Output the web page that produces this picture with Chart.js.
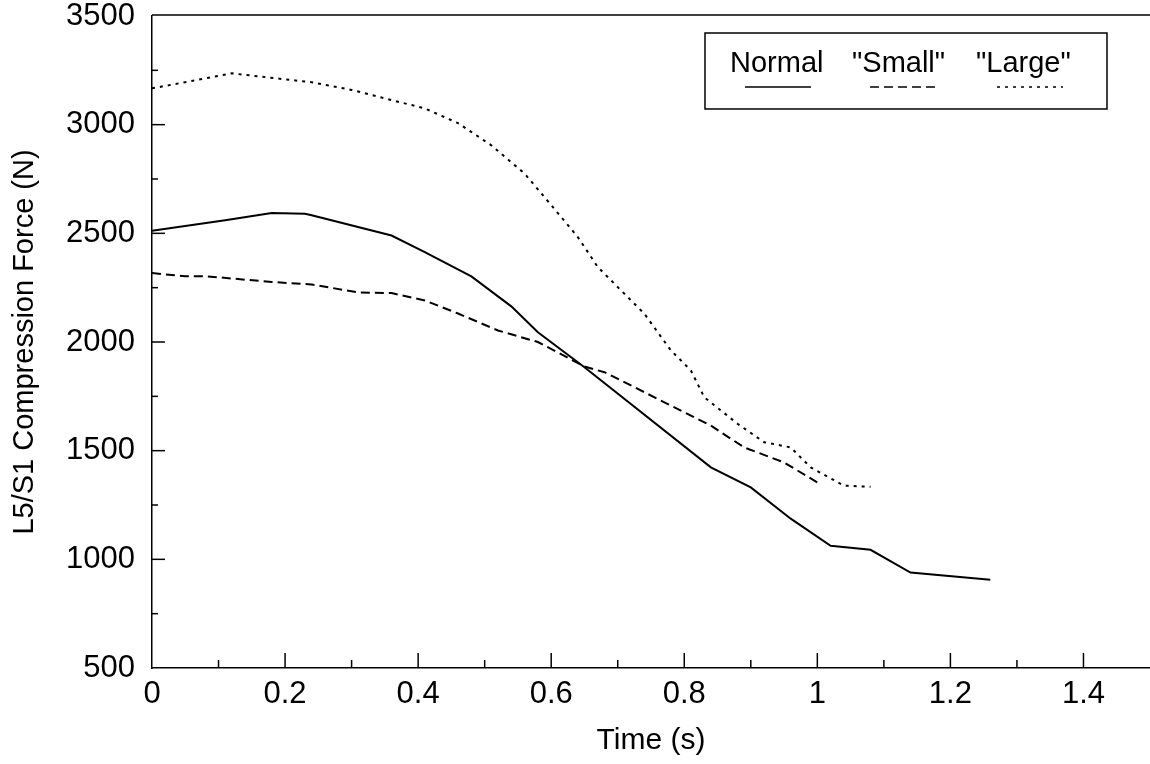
<!DOCTYPE html>
<html>
<head>
<meta charset="utf-8">
<script src="https://cdn.jsdelivr.net/npm/chart.js@4.4.0/dist/chart.umd.min.js"></script>
<style>
  body { margin: 0; background: #fff; }
  #wrap { width: 1150px; height: 764px; }
</style>
</head>
<body>
<div id="wrap"><canvas id="forceChart"></canvas></div>
<script>
// values (time in s, force in N)
const normalTime  = [0, 0.11, 0.18, 0.23, 0.24, 0.36, 0.41, 0.48, 0.54, 0.58, 0.65, 0.84, 0.90, 0.96, 1.02, 1.08, 1.14, 1.26];
const normalForce = [2512, 2560, 2594, 2590, 2583, 2490, 2414, 2302, 2164, 2045, 1884, 1423, 1331, 1187, 1062, 1044, 939, 906];

const smallTime  = [0, 0.05, 0.08, 0.18, 0.24, 0.31, 0.36, 0.41, 0.46, 0.52, 0.58, 0.65, 0.68, 0.74, 0.84, 0.89, 0.95, 1.0];
const smallForce = [2317, 2303, 2303, 2276, 2265, 2228, 2225, 2191, 2131, 2053, 2000, 1887, 1861, 1769, 1615, 1515, 1446, 1354];

const largeTime  = [0, 0.12, 0.24, 0.30, 0.36, 0.41, 0.46, 0.51, 0.56, 0.60, 0.64, 0.67, 0.71, 0.74, 0.78, 0.81, 0.83, 0.88, 0.92, 0.96, 0.99, 1.04, 1.08];
const largeForce = [3167, 3236, 3195, 3160, 3113, 3075, 3007, 2905, 2775, 2630, 2483, 2345, 2222, 2130, 1961, 1869, 1746, 1624, 1539, 1515, 1423, 1339, 1334];

const xTicks = [0, 0.2, 0.4, 0.6, 0.8, 1, 1.2, 1.4];
const yTicks = [500, 1000, 1500, 2000, 2500, 3000, 3500];

const FONT = '"Liberation Sans", Arial, Helvetica, sans-serif';

function toPoints(xs, ys) {
  return xs.map((x, i) => ({ x: x, y: ys[i] }));
}

// inward tick marks, top frame line, and the boxed legend with samples under text
const frameAndLegend = {
  id: 'frameAndLegend',
  afterDraw(chart) {
    const ctx = chart.ctx;
    const area = chart.chartArea;
    const xs = chart.scales.x, ys = chart.scales.y;
    ctx.save();
    ctx.strokeStyle = '#000';
    ctx.lineWidth = 1.5;
    ctx.setLineDash([]);

    ctx.beginPath();
    ctx.moveTo(area.left, area.top - 1);
    ctx.lineTo(area.right, area.top - 1);
    ctx.stroke();

    for (let v = 0.1; v < 1.5; v += 0.1) {
      const px = xs.getPixelForValue(v);
      const major = Math.round(v * 10) % 2 === 0;
      ctx.beginPath();
      ctx.moveTo(px, area.bottom);
      ctx.lineTo(px, area.bottom - (major ? 15 : 8));
      ctx.stroke();
    }
    for (let v = 750; v < 3500; v += 250) {
      const py = ys.getPixelForValue(v);
      const major = v % 500 === 0;
      ctx.beginPath();
      ctx.moveTo(area.left, py);
      ctx.lineTo(area.left + (major ? 13 : 6), py);
      ctx.stroke();
    }

    // legend
    const bx = area.right - 445, by = area.top + 17, bw = 402, bh = 76;
    ctx.lineWidth = 1.5;
    ctx.strokeRect(bx, by, bw, bh);
    ctx.font = '29px ' + FONT;
    ctx.fillStyle = '#000';
    ctx.textBaseline = 'middle';
    const textX = [25, 147, 271];
    const sampleX = [40, 165, 292];
    chart.data.datasets.forEach((ds, i) => {
      ctx.fillText(ds.label, bx + textX[i], by + 31);
      ctx.beginPath();
      ctx.lineWidth = 1.5;
      ctx.setLineDash(ds.borderDash || []);
      ctx.moveTo(bx + sampleX[i], by + 54);
      ctx.lineTo(bx + sampleX[i] + 66, by + 54);
      ctx.stroke();
    });
    ctx.restore();
  }
};

new Chart(document.getElementById('forceChart'), {
  type: 'line',
  data: {
    datasets: [
      {
        label: 'Normal',
        data: toPoints(normalTime, normalForce),
        borderColor: '#000',
        borderWidth: 2,
        pointRadius: 0,
        tension: 0
      },
      {
        label: '"Small"',
        data: toPoints(smallTime, smallForce),
        borderColor: '#000',
        borderWidth: 2,
        borderDash: [9, 5],
        pointRadius: 0,
        tension: 0
      },
      {
        label: '"Large"',
        data: toPoints(largeTime, largeForce),
        borderColor: '#000',
        borderWidth: 2,
        borderDash: [3, 5],
        pointRadius: 0,
        tension: 0
      }
    ]
  },
  options: {
    responsive: true,
    maintainAspectRatio: false,
    animation: false,
    layout: { padding: { top: 16, right: 0, left: 0, bottom: 0 } },
    plugins: {
      legend: { display: false },
      tooltip: { enabled: false }
    },
    scales: {
      x: {
        type: 'linear',
        min: 0,
        max: 1.5,
        grid: { display: false, drawTicks: false },
        border: { display: true, color: '#000', width: 1.5 },
        afterBuildTicks: s => { s.ticks = xTicks.map(v => ({ value: v })); },
        afterFit: s => { s.height = 96; s.paddingLeft = 0; s.paddingRight = 0; },
        ticks: {
          color: '#000',
          padding: 8,
          maxRotation: 0,
          font: { family: FONT, size: 31 },
          callback: v => String(Math.round(v * 10) / 10)
        },
        title: {
          display: true,
          text: 'Time (s)',
          color: '#000',
          font: { family: FONT, size: 30 },
          padding: { top: 0, bottom: 5 }
        }
      },
      y: {
        min: 500,
        max: 3500,
        grid: { display: false, drawTicks: false },
        border: { display: true, color: '#000', width: 1.5 },
        afterBuildTicks: s => { s.ticks = yTicks.map(v => ({ value: v })); },
        afterFit: s => { s.width = 152; s.paddingTop = 0; s.paddingBottom = 0; },
        ticks: {
          color: '#000',
          padding: 17,
          font: { family: FONT, size: 31 },
          callback: v => String(v)
        },
        title: {
          display: true,
          text: 'L5/S1 Compression Force (N)',
          color: '#000',
          font: { family: FONT, size: 29 },
          padding: { top: 8, bottom: 0 }
        }
      }
    }
  },
  plugins: [frameAndLegend]
});
</script>
</body>
</html>
